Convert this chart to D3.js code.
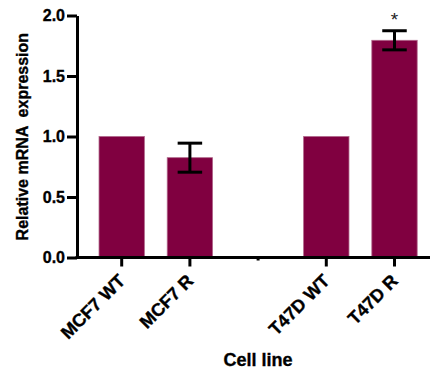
<!DOCTYPE html>
<html>
<head>
<meta charset="utf-8">
<script src="https://cdn.jsdelivr.net/npm/d3@7"></script>
<style>
  html, body { margin: 0; padding: 0; background: #fff; }
  svg { display: block; font-family: "Liberation Sans", Arial, sans-serif; }
  .heavy { stroke: #000; stroke-width: 0.35px; paint-order: stroke; }
</style>
</head>
<body>
<svg id="chart" width="430" height="369"></svg>
<script>
// Cell lines; the empty entry is the spacer column between the two groups
const categories = ["MCF7 WT", "MCF7 R", "", "T47D WT", "T47D R"];
const means      = [1.0, 0.825, null, 1.0, 1.795];
const errors     = [null, 0.12, null, null, 0.079];
const marks      = ["", "", "", "", "*"];
const yTicks     = [0, 0.5, 1.0, 1.5, 2.0];

const rows = categories.map((c, i) => ({ c, m: means[i], e: errors[i], s: marks[i] }));

const svg = d3.select("#chart");
const W = 430;
const axisX = 77, axisY = 257.5;
const barColor = "#800040";

const y = d3.scaleLinear().domain([0, 2]).range([axisY, 15.5]);
const x = d3.scaleBand().domain(categories).range([87.6, 428.6]).padding(0);
const barW = x.bandwidth() * 0.665;
const cx = c => x(c) + x.bandwidth() / 2;

// Bars
svg.append("g").selectAll("rect")
  .data(rows.filter(d => d.m != null))
  .join("rect")
  .attr("x", d => cx(d.c) - barW / 2)
  .attr("y", d => y(d.m))
  .attr("width", barW)
  .attr("height", d => y(0) - y(d.m))
  .attr("fill", barColor)
  .attr("stroke", "#b0668a")
  .attr("stroke-width", 0.8);

// Error bars (mean ± SEM)
const eb = svg.append("g").attr("stroke", "#000").attr("stroke-width", 3);
const withErr = rows.filter(d => d.e != null);
const capW = 24.5;
eb.selectAll("line.v").data(withErr).join("line").attr("class", "v")
  .attr("x1", d => cx(d.c)).attr("x2", d => cx(d.c))
  .attr("y1", d => y(d.m + d.e)).attr("y2", d => y(d.m - d.e));
eb.selectAll("line.t").data(withErr).join("line").attr("class", "t")
  .attr("x1", d => cx(d.c) - capW / 2).attr("x2", d => cx(d.c) + capW / 2)
  .attr("y1", d => y(d.m + d.e)).attr("y2", d => y(d.m + d.e));
eb.selectAll("line.b").data(withErr).join("line").attr("class", "b")
  .attr("x1", d => cx(d.c) - capW / 2).attr("x2", d => cx(d.c) + capW / 2)
  .attr("y1", d => y(d.m - d.e)).attr("y2", d => y(d.m - d.e));

// Significance marks
svg.append("g").selectAll("text")
  .data(rows.filter(d => d.s))
  .join("text")
  .attr("x", d => cx(d.c))
  .attr("y", d => y(d.m + d.e) - 4.5)
  .attr("text-anchor", "middle")
  .attr("font-size", 19)
  .attr("fill", "#222")
  .text(d => d.s);

// Y axis
const yAxis = svg.append("g")
  .attr("transform", `translate(${axisX},0)`)
  .call(d3.axisLeft(y).tickValues(yTicks).tickFormat(d3.format(".1f"))
    .tickSize(10).tickSizeOuter(0).tickPadding(2));
yAxis.select(".domain").attr("stroke-width", 3).attr("stroke", "#000");
yAxis.selectAll(".tick line").attr("stroke-width", 3).attr("stroke", "#000");
yAxis.selectAll(".tick text")
  .attr("class", "heavy")
  .attr("font-size", 16).attr("font-weight", "bold").attr("fill", "#000")
  .attr("font-family", "Liberation Sans, Arial, sans-serif");

// X axis
const xAxis = svg.append("g")
  .attr("transform", `translate(0,${axisY})`)
  .call(d3.axisBottom(x).tickSize(9).tickSizeOuter(0));
xAxis.select(".domain").remove();
xAxis.append("line")
  .attr("x1", axisX - 1.5).attr("x2", W)
  .attr("y1", 0).attr("y2", 0)
  .attr("stroke", "#000").attr("stroke-width", 3);
xAxis.selectAll(".tick line")
  .attr("stroke", "#000").attr("stroke-width", 3)
  .attr("y2", d => d === "" ? 3 : 9);
xAxis.selectAll(".tick text")
  .attr("class", "heavy")
  .attr("font-size", 18).attr("font-weight", "bold").attr("fill", "#000")
  .attr("font-family", "Liberation Sans, Arial, sans-serif")
  .attr("text-anchor", "end")
  .attr("dy", null)
  .attr("y", 0)
  .attr("transform", "translate(4.5,24.5) rotate(-45)");

// Axis titles
svg.append("text")
  .attr("class", "heavy")
  .attr("transform", `translate(28,${(33.3 + 240) / 2}) rotate(-90)`)
  .attr("text-anchor", "middle")
  .attr("font-size", 16).attr("font-weight", "bold")
  .style("white-space", "pre")
  .text("Relative mRNA  expression");

svg.append("text")
  .attr("class", "heavy")
  .attr("x", 258).attr("y", 366)
  .attr("text-anchor", "middle")
  .attr("font-size", 18).attr("font-weight", "bold")
  .text("Cell line");
</script>
</body>
</html>
